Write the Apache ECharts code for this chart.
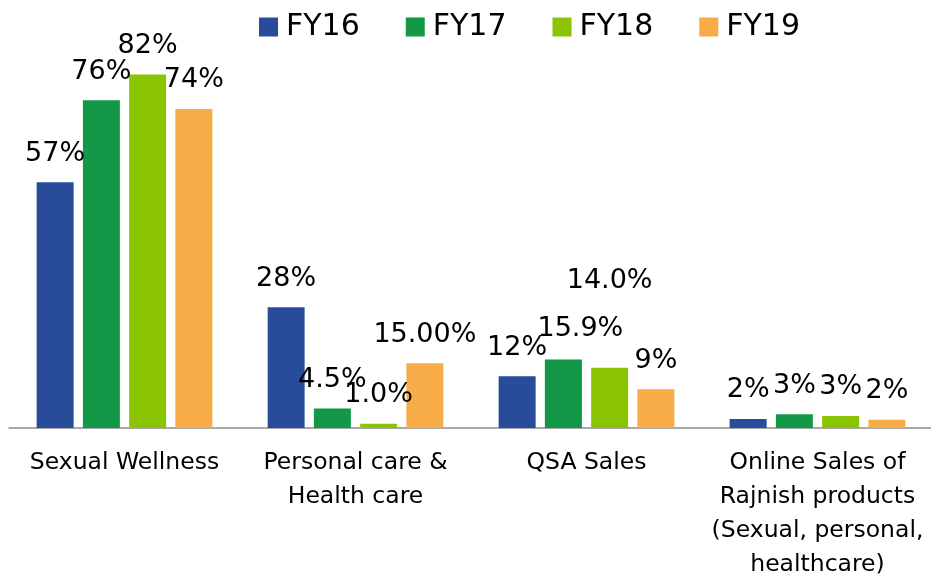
<!DOCTYPE html>
<html>
<head>
<meta charset="utf-8">
<script src="https://cdn.jsdelivr.net/npm/echarts@6/dist/echarts.min.js"></script>
<style>
  html, body { margin: 0; padding: 0; background: #fff; }
  #main { width: 931px; height: 579px; }
</style>
</head>
<body>
<div id="main"></div>
<script>
// categories and series
var categories = ['Sexual Wellness', 'Personal care &\nHealth care', 'QSA Sales',
  'Online Sales of\nRajnish products\n(Sexual, personal,\nhealthcare)'];
var seriesNames = ['FY16', 'FY17', 'FY18', 'FY19'];
var colors = ['#284B9A', '#129847', '#8BC400', '#F7AC48'];

// bar heights (%)
var fy16 = [57, 28, 12, 2.1];
var fy17 = [76, 4.5, 15.9, 3.2];
var fy18 = [82, 1.0, 14.0, 2.8];
var fy19 = [74, 15, 9, 1.9];

// label texts as printed
var fy16Labels = ['57%', '28%', '12%', '2%'];
var fy17Labels = ['76%', '4.5%', '15.9%', '3%'];
var fy18Labels = ['82%', '1.0%', '14.0%', '3%'];
var fy19Labels = ['74%', '15.00%', '9%', '2%'];

var values = [fy16, fy17, fy18, fy19];
var labels = [fy16Labels, fy17Labels, fy18Labels, fy19Labels];

// labels that were moved by hand in the original
var labelOffsets = { '1-2': [17, -2], '2-2': [0, -58] };

var font = 'DejaVu Sans';
var chart = echarts.init(document.getElementById('main'));

var series = seriesNames.map(function (name, s) {
  return {
    name: name,
    type: 'bar',
    barWidth: 37,
    barGap: '25%',
    itemStyle: { color: colors[s] },
    label: {
      show: true,
      position: 'top',
      distance: 15,
      color: '#000',
      fontFamily: font,
      fontSize: 27,
      lineHeight: 27,
      formatter: function (p) { return labels[s][p.dataIndex]; }
    },
    data: values[s].map(function (v, i) {
      var off = labelOffsets[s + '-' + i];
      return off ? { value: v, label: { offset: off } } : v;
    })
  };
});

chart.setOption({
  animation: false,
  legend: {
    top: 7,
    left: 254,
    itemWidth: 19,
    itemHeight: 19,
    itemGap: 46,
    icon: 'rect',
    textStyle: { fontFamily: font, fontSize: 30, color: '#000', padding: [0, 0, 0, 3] },
    data: seriesNames
  },
  grid: { left: 9, top: 40, width: 924, height: 388, outerBoundsMode: 'none' },
  xAxis: {
    type: 'category',
    data: categories,
    axisLine: { lineStyle: { color: '#8C8C8C', width: 1.5 } },
    axisTick: { show: false },
    axisLabel: {
      interval: 0,
      margin: 18,
      color: '#000',
      fontFamily: font,
      fontSize: 23.5,
      lineHeight: 34
    }
  },
  yAxis: {
    type: 'value',
    min: 0,
    max: 90,
    show: false
  },
  series: series
});
</script>
</body>
</html>
